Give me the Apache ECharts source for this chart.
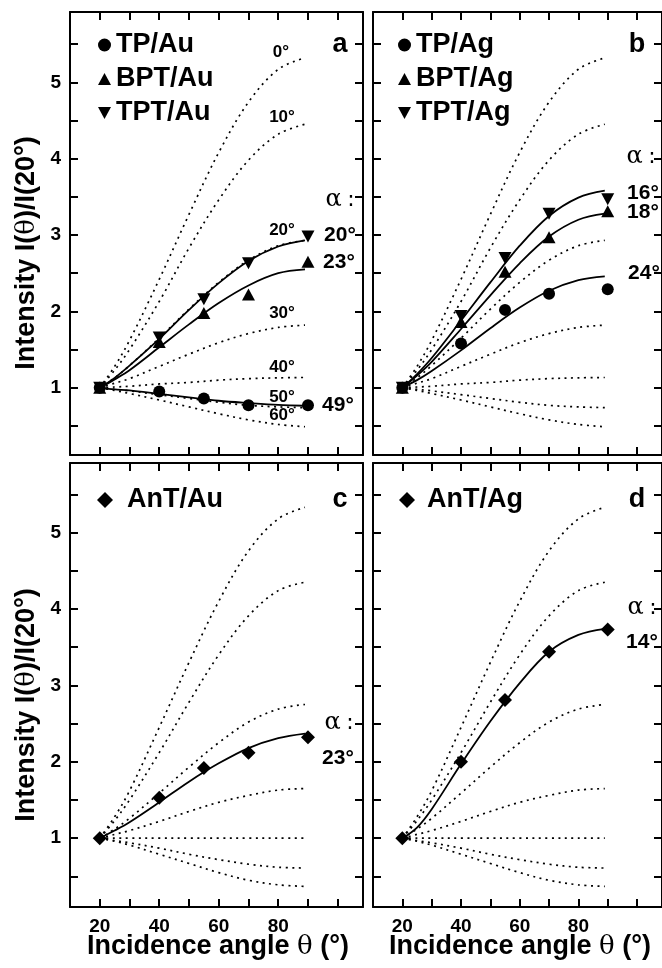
<!DOCTYPE html>
<html><head><meta charset="utf-8">
<script src="https://cdn.jsdelivr.net/npm/echarts@6/dist/echarts.min.js"></script>
<style>html,body{margin:0;padding:0;background:#fff}#c{width:662px;height:968px}</style>
</head><body><div id="c"></div>
<script>
// ---------- data ----------
const markerX = [20, 40, 55, 70, 90];
const tpAu  = [1.0, 0.95, 0.86, 0.77, 0.77];
const bptAu = [1.0, 1.60, 1.98, 2.22, 2.65];
const tptAu = [1.0, 1.66, 2.16, 2.63, 2.98];
const tpAg  = [1.0, 1.58, 2.02, 2.23, 2.29];
const bptAg = [1.0, 1.86, 2.52, 2.97, 3.31];
const tptAg = [1.0, 1.94, 2.70, 3.28, 3.47];
const antAu = [1.0, 1.53, 1.92, 2.12, 2.32];
const antAg = [1.0, 2.00, 2.81, 3.44, 3.73];

const curveX = [20, 25, 30, 40, 50, 60, 70, 80, 89];
// fitted curves (solid)
const fitTpAu  = [1, 0.98, 0.965, 0.92, 0.875, 0.83, 0.80, 0.775, 0.765];
const fitBptAu = [1, 1.11, 1.23, 1.53, 1.83, 2.11, 2.34, 2.50, 2.55];
const fitTptAu = [1, 1.13, 1.29, 1.64, 2.02, 2.37, 2.66, 2.85, 2.93];
const fitTpAg  = [1, 1.10, 1.22, 1.49, 1.78, 2.05, 2.27, 2.41, 2.46];
const fitBptAg = [1, 1.16, 1.34, 1.77, 2.21, 2.63, 2.98, 3.20, 3.28];
const fitTptAg = [1, 1.18, 1.39, 1.88, 2.38, 2.86, 3.25, 3.49, 3.58];
const fitAntAu = [1, 1.10, 1.21, 1.47, 1.74, 1.98, 2.18, 2.31, 2.37];
const fitAntAg = [1, 1.14, 1.38, 1.97, 2.53, 3.03, 3.44, 3.66, 3.74];

// model curves (dotted), panels a & b
const topA0  = [1, 1.28, 1.62, 2.42, 3.27, 4.08, 4.74, 5.17, 5.32];
const topA10 = [1, 1.23, 1.50, 2.13, 2.83, 3.46, 3.98, 4.32, 4.45];
const topA20 = [1, 1.13, 1.29, 1.65, 2.03, 2.38, 2.67, 2.86, 2.93];
const topA30 = [1, 1.06, 1.12, 1.28, 1.44, 1.59, 1.71, 1.79, 1.82];
const topA40 = [1, 1.01, 1.02, 1.05, 1.07, 1.10, 1.12, 1.13, 1.135];
const topA50 = [1, 0.98, 0.96, 0.91, 0.86, 0.81, 0.77, 0.75, 0.74];
const topA60 = [1, 0.965, 0.925, 0.84, 0.75, 0.66, 0.58, 0.52, 0.49];
// model curves (dotted), panels c & d
const botA0  = [1, 1.28, 1.62, 2.45, 3.30, 4.10, 4.76, 5.18, 5.33];
const botA10 = [1, 1.23, 1.50, 2.12, 2.78, 3.40, 3.91, 4.24, 4.35];
const botA20 = [1, 1.12, 1.26, 1.59, 1.93, 2.25, 2.52, 2.69, 2.75];
const botA30 = [1, 1.05, 1.10, 1.22, 1.35, 1.47, 1.56, 1.63, 1.65];
const botA40 = [1, 1, 1, 1, 1, 1, 1, 1, 1];
const botA50 = [1, 0.97, 0.94, 0.87, 0.79, 0.72, 0.66, 0.62, 0.61];
const botA60 = [1, 0.96, 0.91, 0.79, 0.67, 0.55, 0.45, 0.39, 0.37];

// ticks
const xTicks = [20, 30, 40, 50, 60, 70, 80, 90, 100];
const xTickLabels = [20, 40, 60, 80];
const yTicks = [0.5, 1, 1.5, 2, 2.5, 3, 3.5, 4, 4.5, 5, 5.5];
const yTickLabels = [1, 2, 3, 4, 5];

// ---------- layout ----------
const FONT = '"Liberation Sans", Arial, sans-serif';
const grids = [
  {left: 70, top: 12, width: 293, height: 443},
  {left: 373, top: 12, width: 293, height: 443},
  {left: 70, top: 463, width: 293, height: 444},
  {left: 373, top: 463, width: 293, height: 444}
];
const yRanges = [[0.12, 5.92], [0.12, 5.92], [0.1, 5.91], [0.1, 5.91]];

const lineCol = {color: '#000', width: 2};
const xAxes = [], yAxes = [];
for (let g = 0; g < 4; g++) {
  for (const pos of ['bottom', 'top']) {
    xAxes.push({
      gridIndex: g, type: 'value', position: pos, min: 10, max: 108.5,
      axisLine: {show: true, onZero: false, lineStyle: lineCol},
      axisTick: {show: true, inside: true, length: 8, lineStyle: lineCol, customValues: xTicks},
      axisLabel: {show: pos === 'bottom' && g >= 2, customValues: xTickLabels, color: '#000',
        fontFamily: FONT, fontWeight: 'bold', fontSize: 19, margin: 10},
      splitLine: {show: false}
    });
  }
  for (const pos of ['left', 'right']) {
    yAxes.push({
      gridIndex: g, type: 'value', position: pos, min: yRanges[g][0], max: yRanges[g][1],
      axisLine: {show: true, onZero: false, lineStyle: lineCol},
      axisTick: {show: true, inside: true, length: 8, lineStyle: lineCol, customValues: yTicks},
      axisLabel: {show: pos === 'left' && (g === 0 || g === 2), customValues: yTickLabels, color: '#000',
        fontFamily: FONT, fontWeight: 'bold', fontSize: 19, margin: 9},
      splitLine: {show: false}
    });
  }
}

const pairs = (xs, ys) => xs.map((x, i) => [x, ys[i]]);
const series = [];
function dotted(g, ys) {
  series.push({type: 'line', xAxisIndex: 2 * g, yAxisIndex: 2 * g, data: pairs(curveX, ys),
    smooth: 0.35, showSymbol: false, symbol: 'none', silent: true,
    lineStyle: {color: '#000', width: 1.7, type: [2, 4.5], opacity: 1}, z: 2});
}
function fit(g, ys, name) {
  series.push({type: 'line', name: name, xAxisIndex: 2 * g, yAxisIndex: 2 * g, data: pairs(curveX, ys),
    smooth: 0.35, showSymbol: false, symbol: 'none', silent: true,
    lineStyle: {color: '#000', width: 1.8, opacity: 1}, z: 3});
}
const SYM = {
  circle: 'circle',
  up: 'path://M6,0 L12,11 L0,11 Z',
  down: 'path://M0,0 L12,0 L6,11 Z',
  diamond: 'path://M7,0 L14,7 L7,14 L0,7 Z'
};
function marks(g, ys, name, sym, size) {
  series.push({type: 'scatter', name: name, xAxisIndex: 2 * g, yAxisIndex: 2 * g,
    data: pairs(markerX, ys), symbol: SYM[sym], symbolSize: size,
    itemStyle: {color: '#000', opacity: 1}, z: 5, silent: true});
}
const topModels = [topA0, topA10, topA20, topA30, topA40, topA50, topA60];
const botModels = [botA0, botA10, botA20, botA30, botA40, botA50, botA60];
topModels.forEach(m => { dotted(0, m); dotted(1, m); });
botModels.forEach(m => { dotted(2, m); dotted(3, m); });

fit(0, fitTpAu, 'f1'); fit(0, fitBptAu, 'f2'); fit(0, fitTptAu, 'f3');
fit(1, fitTpAg, 'f4'); fit(1, fitBptAg, 'f5'); fit(1, fitTptAg, 'f6');
fit(2, fitAntAu, 'f7'); fit(3, fitAntAg, 'f8');

marks(0, tpAu, 'TP/Au', 'circle', 12);
marks(0, bptAu, 'BPT/Au', 'up', [13, 12]);
marks(0, tptAu, 'TPT/Au', 'down', [13, 12]);
marks(1, tpAg, 'TP/Ag', 'circle', 12);
marks(1, bptAg, 'BPT/Ag', 'up', [13, 12]);
marks(1, tptAg, 'TPT/Ag', 'down', [13, 12]);
marks(2, antAu, 'AnT/Au', 'diamond', 14);
marks(3, antAg, 'AnT/Ag', 'diamond', 14);

const legTxt = {fontFamily: FONT, fontWeight: 'bold', fontSize: 27, color: '#000', lineHeight: 30};
function legend(left, top, items, pad, icon) {
  return {left: left, top: top, orient: 'vertical', itemGap: 4, itemWidth: icon || 13, itemHeight: icon || 13,
    selectedMode: false, padding: 0,
    itemStyle: {color: '#000', opacity: 1},
    textStyle: Object.assign({}, legTxt, pad ? {padding: [0, 0, 0, pad]} : {}),
    data: items.map(([n, s]) => ({name: n, icon: SYM[s], itemStyle: {color: '#000', opacity: 1}}))};
}

// ---------- text annotations ----------
const bold = s => 'bold ' + s + 'px ' + FONT;
function T(x, y, text, font, extra) {
  return {type: 'text', x: x, y: y, z: 100, silent: true,
    style: Object.assign({text: text, font: font, fill: '#000', align: 'center', verticalAlign: 'middle'}, extra || {})};
}
const alphaRich = {a: {font: '24px "DejaVu Serif", serif'}, c: {font: '22px "DejaVu Sans", sans-serif'}};
function alpha(x, y) { return T(x, y, '{a|α} {c|:}', bold(20), {rich: alphaRich}); }
const thetaRich = {b: {font: bold(27)}, t: {font: '26px "DejaVu Serif", serif'}};

const graphics = [
  // panel letters
  T(340, 45, 'a', bold(27)), T(637, 45, 'b', bold(27)),
  T(340, 500, 'c', bold(27)), T(637, 500, 'd', bold(27)),
  // model labels panel a
  T(281, 52, '0°', bold(17)), T(282, 117, '10°', bold(17)), T(282, 230, '20°', bold(17)),
  T(282, 313, '30°', bold(17)), T(282, 367, '40°', bold(17)), T(282, 397, '50°', bold(17)),
  T(282, 415, '60°', bold(17)),
  // alpha labels
  alpha(340, 200), T(340, 235, '20°', bold(21)), T(339, 262, '23°', bold(21)), T(338, 405, '49°', bold(21)),
  alpha(641, 157), T(643, 193, '16°', bold(21)), T(643, 212, '18°', bold(21)), T(644, 273, '24°', bold(21)),
  alpha(339, 723), T(338, 758, '23°', bold(21)),
  alpha(642, 608), T(642, 642, '14°', bold(21)),
  // axis titles
  {type: 'text', x: 27, y: 253, rotation: Math.PI / 2, z: 100, silent: true,
    style: {text: '{b|Intensity I(}{t|θ}{b|)/I(20°)}', rich: thetaRich, align: 'center', verticalAlign: 'middle', fill: '#000'}},
  {type: 'text', x: 27, y: 705, rotation: Math.PI / 2, z: 100, silent: true,
    style: {text: '{b|Intensity I(}{t|θ}{b|)/I(20°)}', rich: thetaRich, align: 'center', verticalAlign: 'middle', fill: '#000'}},
  {type: 'text', x: 218, y: 947, z: 100, silent: true,
    style: {text: '{b|Incidence angle }{t|θ}{b| (°)}', rich: thetaRich, align: 'center', verticalAlign: 'middle', fill: '#000'}},
  {type: 'text', x: 520, y: 947, z: 100, silent: true,
    style: {text: '{b|Incidence angle }{t|θ}{b| (°)}', rich: thetaRich, align: 'center', verticalAlign: 'middle', fill: '#000'}}
];

const chart = echarts.init(document.getElementById('c'), null, {renderer: 'canvas'});
chart.setOption({
  backgroundColor: '#fff',
  animation: false,
  grid: grids,
  xAxis: xAxes,
  yAxis: yAxes,
  legend: [
    legend(98, 30, [['TP/Au', 'circle'], ['BPT/Au', 'up'], ['TPT/Au', 'down']]),
    legend(398, 30, [['TP/Ag', 'circle'], ['BPT/Ag', 'up'], ['TPT/Ag', 'down']]),
    legend(97, 485, [['AnT/Au', 'diamond']], 9, 16),
    legend(399, 485, [['AnT/Ag', 'diamond']], 7, 16)
  ],
  series: series,
  graphic: graphics
});
</script></body></html>
